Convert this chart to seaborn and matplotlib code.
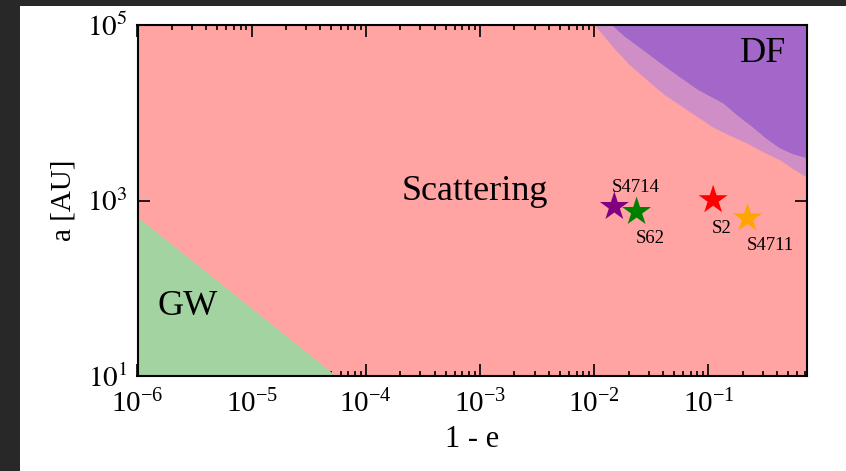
import numpy as np
import pandas as pd
import seaborn as sns
import matplotlib.pyplot as plt
from matplotlib.ticker import LogLocator, NullLocator, FixedLocator
from matplotlib.patches import Rectangle

# S-stars: 1-e and semi-major axis [AU]
star_names = ['S4714', 'S62', 'S2', 'S4711']
star_one_minus_e = [0.015, 0.0235, 0.11, 0.22]
star_a = [850, 745, 1015, 630]
star_colors = ['#800080', '#008000', '#ff0000', '#ffa500']
label_x = [0.0232, 0.0308, 0.131, 0.346]
label_y = [1260, 325, 430, 273]

# GW region boundary
gw_x = [1e-6, 5.5e-5]
gw_a = [650, 10]

# DF region boundaries (outer = light band, inner = dark)
df_outer_x = [0.0101, 0.012, 0.0146, 0.02, 0.029, 0.04, 0.0562, 0.08, 0.109, 0.15, 0.217, 0.3, 0.423, 0.55, 0.75]
df_outer_a = [1e5, 76000, 56100, 36000, 23600, 16500, 12250, 9000, 6890, 5600, 4520, 3600, 2900, 2300, 1800]
df_inner_x = [0.0143, 0.018, 0.023, 0.029, 0.04, 0.0562, 0.08, 0.134, 0.18, 0.243, 0.32, 0.423, 0.55, 0.75]
df_inner_a = [1e5, 76000, 60000, 48000, 35000, 25500, 18500, 12900, 9300, 6890, 5100, 3960, 3400, 3040]

yticks = [10, 1e3, 1e5]
ytick_labels = ['$10^1$', '$10^3$', '$10^5$']

stars = pd.DataFrame({'name': star_names, 'x': star_one_minus_e, 'a': star_a})

sns.set_theme(style='ticks')
plt.rcParams['font.family'] = ['Liberation Serif', 'DejaVu Serif']
plt.rcParams['mathtext.fontset'] = 'stix'
plt.rcParams['text.color'] = 'black'
plt.rcParams['axes.labelcolor'] = 'black'

fig = plt.figure(figsize=(8.46, 4.71), dpi=100, facecolor='#282828')
fig.patches.append(Rectangle((20/846, 0), 1, 465/471, transform=fig.transFigure,
                             facecolor='white', edgecolor='none', zorder=-10))
ax = fig.add_axes([137.5/846, 95/471, 669.5/846, 351/471])
ax.set_xscale('log')
ax.set_yscale('log')
ax.set_xlim(1e-6, 0.73)
ax.set_ylim(10, 1e5)
ax.set_facecolor('#ffa3a3')

# regions
ax.fill_between(gw_x, gw_a, 1, color='#a3d3a0', lw=0, zorder=1)
ax.fill_between(df_outer_x, df_outer_a, 1e6, color='#cf8fc6', lw=0, zorder=1)
ax.fill_between(df_inner_x, df_inner_a, 1e6, color='#a267c8', lw=0, zorder=2)

sns.scatterplot(data=stars, x='x', y='a', hue='name', palette=dict(zip(star_names, star_colors)),
                marker='*', s=480, linewidth=0, legend=False, ax=ax, zorder=5)
for n, lx, ly in zip(star_names, label_x, label_y):
    ax.text(lx, ly, n, fontsize=13.5, ha='center', va='baseline', zorder=6)

ax.text(9e-4, 1000, 'Scattering', fontsize=26, ha='center', va='baseline')
ax.text(2.77e-6, 49.5, 'GW', fontsize=26, ha='center', va='baseline')
ax.text(0.30, 3.8e4, 'DF', fontsize=26, ha='center', va='baseline')

ax.xaxis.set_major_locator(LogLocator(base=10, numticks=20))
ax.xaxis.set_minor_locator(LogLocator(base=10, subs=np.arange(2, 10), numticks=20))
ax.yaxis.set_major_locator(FixedLocator(yticks))
ax.yaxis.set_minor_locator(NullLocator())
ax.set_yticklabels(ytick_labels)
ax.tick_params(which='both', direction='in', top=True, right=True, width=1.2, colors='black')
ax.tick_params(which='major', length=8.5, labelsize=21)
ax.tick_params(which='minor', length=3.6)
ax.tick_params(axis='x', pad=10)
ax.tick_params(axis='y', pad=7)
for s in ax.spines.values():
    s.set_linewidth(1.5)
    s.set_color('black')
    s.set_zorder(10)

ax.set_xlabel('1 - e', fontsize=22, labelpad=5)
ax.set_ylabel('a [AU]', fontsize=21, labelpad=8)

fig.savefig('out.png', dpi=100, facecolor=fig.get_facecolor())
